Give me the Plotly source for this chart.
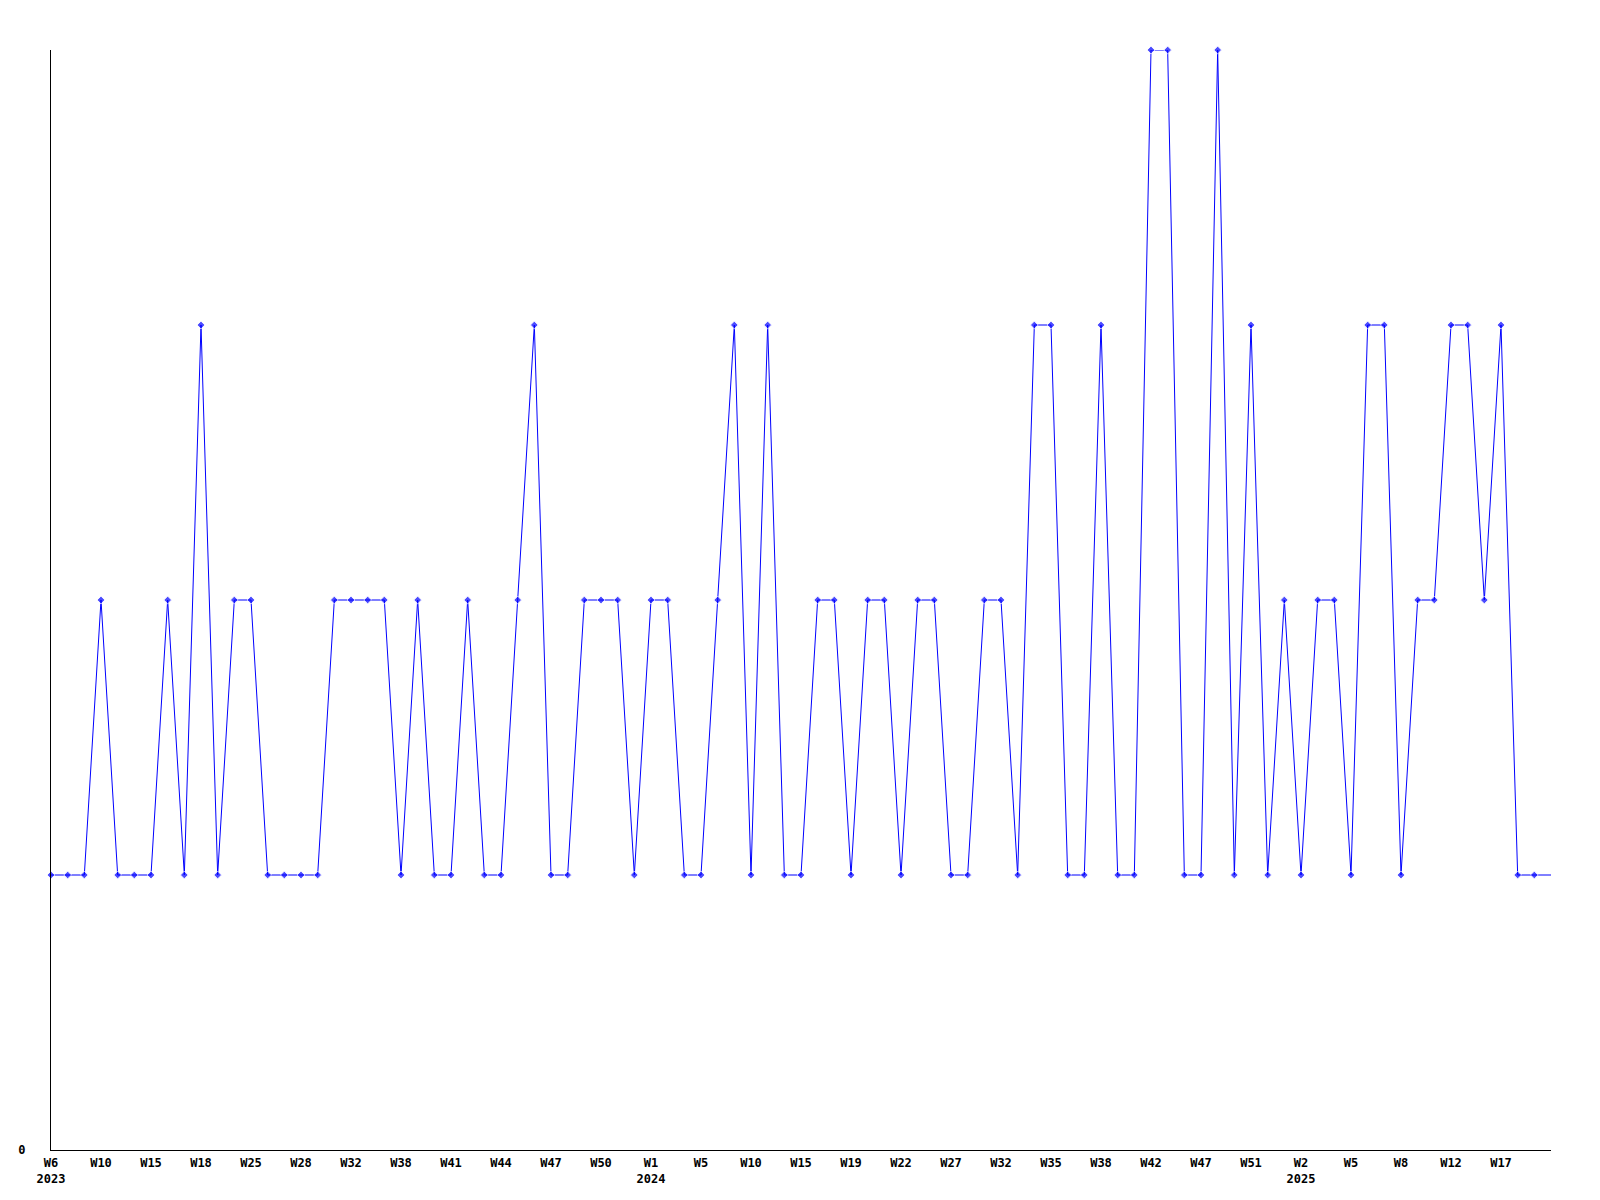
import plotly.graph_objects as go

# weekly values (weeks with data only), from W6 2023 to ~W19 2025
values = [1, 1, 1, 2, 1, 1, 1, 2, 1, 3,
          1, 2, 2, 1, 1, 1, 1, 2, 2, 2,
          2, 1, 2, 1, 1, 2, 1, 1, 2, 3,
          1, 1, 2, 2, 2, 1, 2, 2, 1, 1,
          2, 3, 1, 3, 1, 1, 2, 2, 1, 2,
          2, 1, 2, 2, 1, 1, 2, 2, 1, 3,
          3, 1, 1, 3, 1, 1, 4, 4, 1, 1,
          4, 1, 3, 1, 2, 1, 2, 2, 1, 3,
          3, 1, 2, 2, 3, 3, 2, 3, 1, 1,
          1]

tick_labels = ["W6<br>2023", "W10", "W15", "W18", "W25", "W28", "W32", "W38", "W41", "W44",
               "W47", "W50", "W1<br>2024", "W5", "W10", "W15", "W19", "W22", "W27", "W32",
               "W35", "W38", "W42", "W47", "W51", "W2<br>2025", "W5", "W8", "W12", "W17"]
tick_step = 3

x = list(range(len(values)))
marker_sizes = [6] * (len(values) - 1) + [0]

fig = go.Figure()
fig.add_trace(go.Scatter(
    x=x, y=values, mode="lines+markers",
    line=dict(color="#0000FF", width=1),
    marker=dict(symbol="diamond", size=marker_sizes, color="#0000FF"),
    cliponaxis=False, showlegend=False,
))

tickfont = dict(family="DejaVu Sans Mono", size=12, color="black", weight="bold")

fig.update_layout(
    width=1600, height=1200,
    margin=dict(l=43, r=57, t=42, b=58, autoexpand=False),
    paper_bgcolor="white", plot_bgcolor="white",
    xaxis=dict(
        range=[0, len(values) - 1],
        tickvals=[i * tick_step for i in range(len(tick_labels))],
        ticktext=tick_labels,
        showgrid=False, zeroline=False,
        showline=True, linecolor="black", linewidth=1,
        ticks="", tickfont=tickfont, ticklabelstandoff=2,
        automargin=False,
    ),
    yaxis=dict(
        range=[0, 4],
        tickvals=[0], ticktext=["0"],
        showgrid=False, zeroline=False,
        showline=True, linecolor="black", linewidth=1,
        ticks="", tickfont=tickfont, ticklabelstandoff=22,
        automargin=False,
    ),
)

fig.write_html("out.html")
